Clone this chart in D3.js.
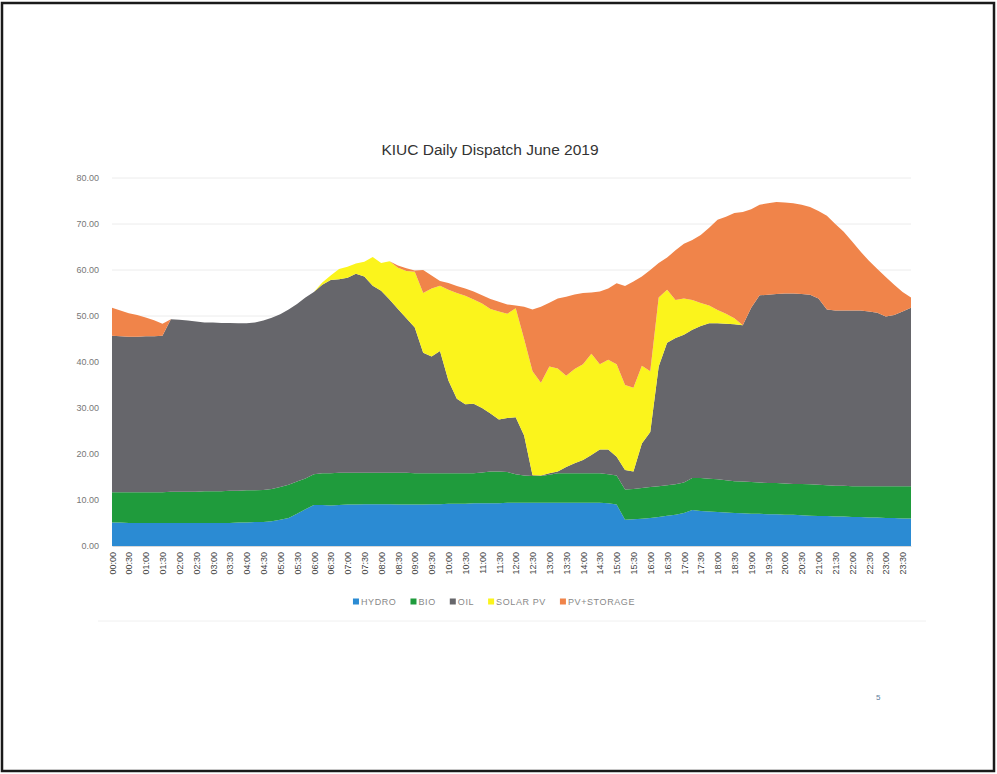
<!DOCTYPE html>
<html>
<head>
<meta charset="utf-8">
<script src="https://cdn.jsdelivr.net/npm/d3@7"></script>
<style>
  html, body { margin: 0; padding: 0; background: #fff; }
  svg { display: block; }
</style>
</head>
<body>
<div id="chart"></div>
<script>
// Chart styling
const CONFIG = {
    width: 997,
    height: 774,
    plot: { left: 112, right: 911, top: 178, bottom: 546 },
    font: "'Liberation Sans', Arial, sans-serif",
    colors: {
        hydro: "#2b8bd3",
        bio: "#1f9b3c",
        oil: "#66666b",
        solar: "#fbf41c",
        storage: "#f0844a"
    },
    gridColor: "#ececec"
};

// 15-minute intervals, 00:00 .. 23:45 (labels shown every 30 min)
const TIMES = d3.range(96).map(i => {
    const h = Math.floor(i / 4), m = (i % 4) * 15;
    return `${String(h).padStart(2, "0")}:${String(m).padStart(2, "0")}`;
});

const SERIES = ["HYDRO", "BIO", "OIL", "SOLAR PV", "PV+STORAGE"];

const HYDRO = [
    5.1, 5.1, 5.0, 5.0, 5.0, 5.0, 5.0, 5.0, 5.0, 5.0, 5.0, 5.0, 5.0, 5.0, 5.0, 5.1,
    5.1, 5.2, 5.2, 5.4, 5.7, 6.1, 7.0, 8.0, 8.9, 8.9, 8.8, 8.9, 9.0, 9.0, 9.1, 9.1,
    9.1, 9.1, 9.0, 9.0, 9.0, 9.0, 9.1, 9.1, 9.2, 9.2, 9.2, 9.3, 9.3, 9.3, 9.3, 9.4,
    9.4, 9.4, 9.4, 9.4, 9.4, 9.4, 9.4, 9.4, 9.4, 9.4, 9.4, 9.3, 9.0, 5.7, 5.8, 5.9,
    6.1, 6.3, 6.6, 6.8, 7.2, 7.8, 7.6, 7.5, 7.4, 7.3, 7.2, 7.1, 7.0, 7.0, 6.9, 6.9,
    6.8, 6.8, 6.7, 6.6, 6.5, 6.5, 6.4, 6.4, 6.3, 6.3, 6.2, 6.2, 6.1, 6.1, 6.0, 6.0
];

const BIO = [
    6.6, 6.6, 6.7, 6.7, 6.7, 6.7, 6.7, 6.8, 6.8, 6.8, 6.8, 6.9, 6.9, 6.9, 7.0, 6.9,
    7.0, 6.9, 7.0, 7.0, 7.1, 7.2, 7.0, 6.7, 6.7, 6.9, 7.0, 7.0, 6.9, 6.9, 6.8, 6.8,
    6.8, 6.8, 6.9, 6.9, 6.8, 6.8, 6.7, 6.7, 6.6, 6.6, 6.6, 6.5, 6.7, 6.9, 6.9, 6.7,
    6.2, 5.9, 5.8, 5.8, 6.1, 6.4, 6.4, 6.4, 6.4, 6.4, 6.4, 6.3, 6.3, 6.6, 6.6, 6.7,
    6.7, 6.7, 6.6, 6.6, 6.6, 7.0, 7.2, 7.1, 7.1, 7.0, 6.9, 6.9, 6.9, 6.8, 6.8, 6.8,
    6.8, 6.7, 6.8, 6.8, 6.8, 6.7, 6.7, 6.7, 6.7, 6.7, 6.8, 6.8, 6.9, 6.9, 7.0, 7.0
];

const OIL = [
    34.0, 33.9, 33.8, 33.8, 33.9, 33.9, 34.0, 37.5, 37.4, 37.2, 37.0, 36.7, 36.7, 36.6, 36.5, 36.4,
    36.3, 36.5, 36.8, 37.2, 37.6, 38.1, 38.6, 39.3, 39.6, 41.0, 42.0, 42.1, 42.4, 43.3, 42.7, 40.7,
    39.6, 37.7, 35.6, 33.6, 31.7, 26.2, 25.4, 26.6, 20.2, 16.2, 15.0, 15.1, 14.0, 12.6, 11.3, 11.7,
    12.4, 8.7, 0.2, 0.1, 0.3, 0.4, 1.4, 2.2, 2.9, 4.0, 5.2, 5.4, 4.1, 4.2, 3.8, 9.7,
    12.0, 26.0, 31.0, 31.8, 32.1, 32.2, 33.0, 33.8, 33.9, 34.0, 34.1, 34.0, 37.9, 40.7, 40.9, 41.1,
    41.3, 41.4, 41.3, 41.2, 40.5, 38.2, 38.1, 38.1, 38.2, 38.2, 38.0, 37.7, 36.9, 37.2, 38.0, 38.8
];

const SOLAR = [
    0, 0, 0, 0, 0, 0, 0, 0, 0, 0, 0, 0, 0, 0, 0, 0,
    0, 0, 0, 0, 0, 0, 0, 0, 0, 0.5, 1.0, 2.2, 2.4, 2.2, 3.2, 6.2,
    6.0, 8.3, 9.0, 10.3, 12.1, 13.0, 14.8, 14.2, 19.7, 23.0, 23.6, 22.7, 22.7, 22.7, 23.5, 22.7,
    23.7, 21.0, 22.6, 20.2, 23.2, 22.4, 19.8, 20.5, 20.8, 22.0, 18.5, 19.5, 20.1, 18.5, 18.2, 16.9,
    13.2, 15.0, 11.5, 8.3, 7.9, 6.5, 5.0, 3.9, 2.9, 2.2, 1.3, 0, 0, 0, 0, 0,
    0, 0, 0, 0, 0, 0, 0, 0, 0, 0, 0, 0, 0, 0, 0, 0
];

const STORAGE = [
    6.1, 5.6, 5.1, 4.7, 4.1, 3.5, 2.6, 0, 0, 0, 0, 0, 0, 0, 0, 0,
    0, 0, 0, 0, 0, 0, 0, 0, 0, 0, 0, 0, 0, 0, 0, 0,
    0, 0, 0.5, 0.6, 0.3, 5.0, 2.8, 1.0, 1.5, 1.5, 1.6, 1.7, 1.8, 2.2, 2.1, 2.0,
    0.6, 7.0, 13.4, 16.5, 13.9, 15.2, 17.2, 16.2, 15.5, 13.3, 15.8, 15.5, 17.6, 21.5, 23.1, 19.4,
    22.0, 7.5, 7.0, 10.8, 11.9, 13.0, 14.8, 16.9, 19.6, 21.1, 22.9, 24.6, 21.4, 19.7, 19.9, 20.0,
    19.8, 19.6, 19.4, 19.1, 19.0, 20.4, 18.8, 17.1, 15.0, 12.8, 11.0, 9.5, 8.6, 6.6, 4.2, 2.2
];

const Y_TICKS = [0, 10, 20, 30, 40, 50, 60, 70, 80];

function createChart(containerId) {
    const { width, height, plot } = CONFIG;
    const colorList = [CONFIG.colors.hydro, CONFIG.colors.bio, CONFIG.colors.oil,
                       CONFIG.colors.solar, CONFIG.colors.storage];
    const color = d3.scaleOrdinal().domain(SERIES).range(colorList);

    // table for d3.stack
    const rows = TIMES.map((t, i) => ({
        time: t,
        "HYDRO": HYDRO[i],
        "BIO": BIO[i],
        "OIL": OIL[i],
        "SOLAR PV": SOLAR[i],
        "PV+STORAGE": STORAGE[i]
    }));
    const stacked = d3.stack().keys(SERIES)(rows);

    const x = d3.scalePoint().domain(TIMES).range([plot.left, plot.right]);
    const y = d3.scaleLinear().domain([0, 80]).range([plot.bottom, plot.top]);

    const svg = d3.select(`#${containerId}`)
        .append("svg")
        .attr("width", width)
        .attr("height", height)
        .style("font-family", CONFIG.font);

    // scanned page frame
    svg.append("rect")
        .attr("x", 2).attr("y", 3)
        .attr("width", width - 5).attr("height", height - 6)
        .attr("fill", "#fff")
        .attr("stroke", "#1a1a1a")
        .attr("stroke-width", 2.5);

    // faint line under the chart area
    svg.append("line")
        .attr("x1", 98).attr("x2", 926)
        .attr("y1", 621).attr("y2", 621)
        .attr("stroke", "#f0f0f0");

    // title
    svg.append("text")
        .attr("x", 490)
        .attr("y", 155)
        .attr("text-anchor", "middle")
        .attr("font-size", "15.5px")
        .attr("fill", "#333")
        .text("KIUC Daily Dispatch June 2019");

    // gridlines
    svg.append("g")
        .selectAll("line")
        .data(Y_TICKS.slice(1))
        .join("line")
            .attr("x1", plot.left).attr("x2", plot.right)
            .attr("y1", d => y(d)).attr("y2", d => y(d))
            .attr("stroke", CONFIG.gridColor)
            .attr("stroke-width", 1);

    // y axis
    const yAxis = svg.append("g")
        .attr("transform", `translate(${plot.left - 10},0)`)
        .call(d3.axisLeft(y).tickValues(Y_TICKS).tickFormat(d3.format(".2f")).tickSize(0));
    yAxis.select(".domain").remove();
    yAxis.selectAll("text")
        .attr("font-size", "9px")
        .attr("font-family", CONFIG.font)
        .attr("fill", "#777");

    // stacked areas
    const area = d3.area()
        .x(d => x(d.data.time))
        .y0(d => y(d[0]))
        .y1(d => y(d[1]));

    svg.append("g")
        .selectAll("path")
        .data(stacked)
        .join("path")
            .attr("fill", d => color(d.key))
            .attr("d", area);

    // x axis
    const xAxis = svg.append("g")
        .attr("transform", `translate(0,${plot.bottom})`)
        .call(d3.axisBottom(x).tickValues(TIMES.filter((t, i) => i % 2 === 0)).tickSize(0));
    xAxis.select(".domain").attr("stroke", "#d8d8d8");
    xAxis.selectAll("text")
        .attr("font-size", "9px")
        .attr("font-family", CONFIG.font)
        .attr("fill", "#444")
        .attr("text-anchor", "end")
        .attr("transform", "rotate(-90)")
        .attr("x", -6)
        .attr("y", 0)
        .attr("dy", "0.35em");

    createLegend(svg, color);

    // page number
    svg.append("text")
        .attr("x", 876)
        .attr("y", 700)
        .attr("font-size", "8px")
        .attr("fill", "#5c7d9c")
        .text("5");
}

function createLegend(svg, color) {
    const legend = svg.append("g")
        .attr("font-size", "9px")
        .attr("letter-spacing", "0.6px")
        .attr("fill", "#888");
    let cx = 0;
    SERIES.forEach(name => {
        const g = legend.append("g");
        g.append("rect")
            .attr("width", 6).attr("height", 6)
            .attr("y", -6.5)
            .attr("fill", color(name));
        const t = g.append("text").attr("x", 8).attr("y", 0).text(name);
        const w = 8 + t.node().getComputedTextLength();
        g.attr("transform", `translate(${cx},0)`);
        cx += w + 14;
    });
    const total = cx - 14;
    legend.attr("transform", `translate(${494 - total / 2},605)`);
}

createChart("chart");
</script>
</body>
</html>
